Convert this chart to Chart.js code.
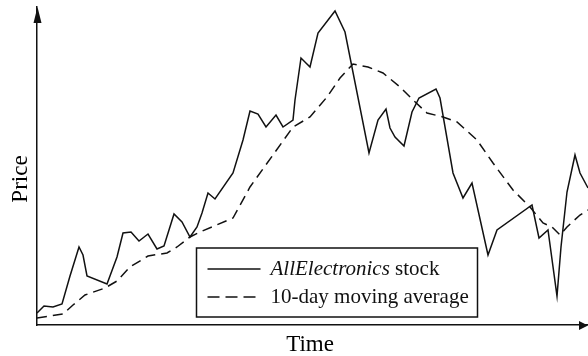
<!DOCTYPE html>
<html>
<head>
<meta charset="utf-8">
<script src="https://cdn.jsdelivr.net/npm/chart.js@4.4.1/dist/chart.umd.min.js"></script>
<style>
html,body{margin:0;padding:0;background:#fff;}
#wrap{width:588px;height:356px;}
</style>
</head>
<body>
<div id="wrap"><canvas id="c" width="588" height="356"></canvas></div>
<script>
// Data (time units along x, price units along y)
const stockTime = [0,7,16,25,33,42,46,50,70,80,86,94,102,111,120,127,137,145,153,160,165,171,178,196,206,213,221,229,239,246,256,258,264,273,281,298,308,332,341,349,353,358,367,375,382,399,403,416,426,435,451,460,495,502,511,520,524,530,538,543,551];
const stockPrice = [12,19,18,21,49,78,70,49,41,68,92,93,84,91,76,79,111,103,88,98,112,132,126,152,185,214,211,198,210,198,205,225,267,258,292,314,293,172,205,216,197,188,179,213,227,236,227,152,127,142,70,95,120,87,95,29,78,133,170,152,137];
const avgTime = [0,26,36,48,68,80,93,111,130,140,153,163,196,213,236,256,273,290,303,316,331,346,363,376,390,406,420,440,456,476,493,506,515,523,530,543,551];
const avgPrice = [7,11,20,30,37,44,58,69,72,78,88,93,107,138,170,198,208,228,247,261,258,252,238,225,212,208,203,185,162,135,118,102,98,90,98,110,115];
const seriesLabels = ['AllElectronics stock', '10-day moving average'];
const italicPart = 'AllElectronics';
const xTitle = 'Time';
const yTitle = 'Price';

const toPts = (xs, ys) => xs.map((x, i) => ({x: x, y: ys[i]}));
const serif = '"Liberation Serif", "DejaVu Serif", serif';
const ink = '#111';

const arrowPlugin = {
  id: 'arrows',
  afterDraw(chart) {
    const {ctx, chartArea: a} = chart;
    ctx.save();
    ctx.fillStyle = ink;
    ctx.beginPath();
    ctx.moveTo(a.left + 0.5, a.top);
    ctx.lineTo(a.left + 4.5, a.top + 16);
    ctx.lineTo(a.left - 3.5, a.top + 16);
    ctx.closePath();
    ctx.fill();
    ctx.beginPath();
    ctx.moveTo(a.right, a.bottom + 0.5);
    ctx.lineTo(a.right - 9, a.bottom - 4);
    ctx.lineTo(a.right - 9, a.bottom + 5);
    ctx.closePath();
    ctx.fill();
    ctx.restore();
  }
};

const titlePlugin = {
  id: 'axisTitles',
  afterDraw(chart, args, o) {
    const ctx = chart.ctx;
    ctx.save();
    ctx.fillStyle = '#000';
    ctx.font = o.size + 'px ' + serif;
    ctx.textAlign = 'center';
    ctx.textBaseline = 'alphabetic';
    ctx.fillText(xTitle, o.xCenter, o.xBase);
    ctx.translate(o.yBase, o.yCenter);
    ctx.rotate(-Math.PI / 2);
    ctx.fillText(yTitle, 0, 0);
    ctx.restore();
  }
};

const legendPlugin = {
  id: 'boxLegend',
  afterDatasetsDraw(chart, args, o) {
    const ctx = chart.ctx;
    ctx.save();
    ctx.fillStyle = '#fff';
    ctx.fillRect(o.x, o.y, o.w, o.h);
    ctx.strokeStyle = ink;
    ctx.lineWidth = 1.5;
    ctx.strokeRect(o.x, o.y, o.w, o.h);
    chart.data.datasets.forEach((ds, i) => {
      const yy = o.y + o.rowY[i];
      ctx.beginPath();
      ctx.setLineDash(i === 0 ? [] : [12, 6]);
      ctx.lineWidth = 1.5;
      ctx.moveTo(o.x + 11, yy);
      ctx.lineTo(o.x + 64, yy);
      ctx.stroke();
      ctx.setLineDash([]);
      ctx.fillStyle = ink;
      ctx.textBaseline = 'alphabetic';
      let tx = o.x + 74;
      const base = yy + o.baseOff;
      let label = ds.label;
      if (label.startsWith(italicPart)) {
        ctx.font = 'italic ' + o.size + 'px ' + serif;
        ctx.fillText(italicPart, tx, base);
        tx += ctx.measureText(italicPart).width;
        label = label.slice(italicPart.length);
      }
      ctx.font = o.size + 'px ' + serif;
      ctx.fillText(label, tx, base);
    });
    ctx.restore();
  }
};

new Chart(document.getElementById('c'), {
  type: 'line',
  data: {
    datasets: [
      {label: seriesLabels[0], data: toPts(stockTime, stockPrice), borderColor: ink, borderWidth: 1.5, pointRadius: 0, tension: 0, fill: false},
      {label: seriesLabels[1], data: toPts(avgTime, avgPrice), borderColor: ink, borderWidth: 1.5, borderDash: [10, 6], pointRadius: 0, tension: 0, fill: false}
    ]
  },
  options: {
    responsive: false,
    animation: false,
    devicePixelRatio: 1,
    layout: {padding: {left: 37, right: 0, top: 7, bottom: 31}},
    plugins: {
      legend: {display: false},
      tooltip: {enabled: false},
      boxLegend: {x: 196.5, y: 248, w: 281, h: 69, rowY: [21, 49], baseOff: 6, size: 21},
      axisTitles: {size: 23, xCenter: 310, xBase: 351, yCenter: 179, yBase: 27}
    },
    scales: {
      x: {
        type: 'linear', min: 0, max: 551,
        grid: {display: false, drawTicks: false},
        ticks: {display: false},
        border: {display: true, color: ink, width: 1.5}
      },
      y: {
        type: 'linear', min: 0, max: 318,
        grid: {display: false, drawTicks: false},
        ticks: {display: false},
        border: {display: true, color: ink, width: 1.5}
      }
    }
  },
  plugins: [legendPlugin, arrowPlugin, titlePlugin]
});
</script>
</body>
</html>
